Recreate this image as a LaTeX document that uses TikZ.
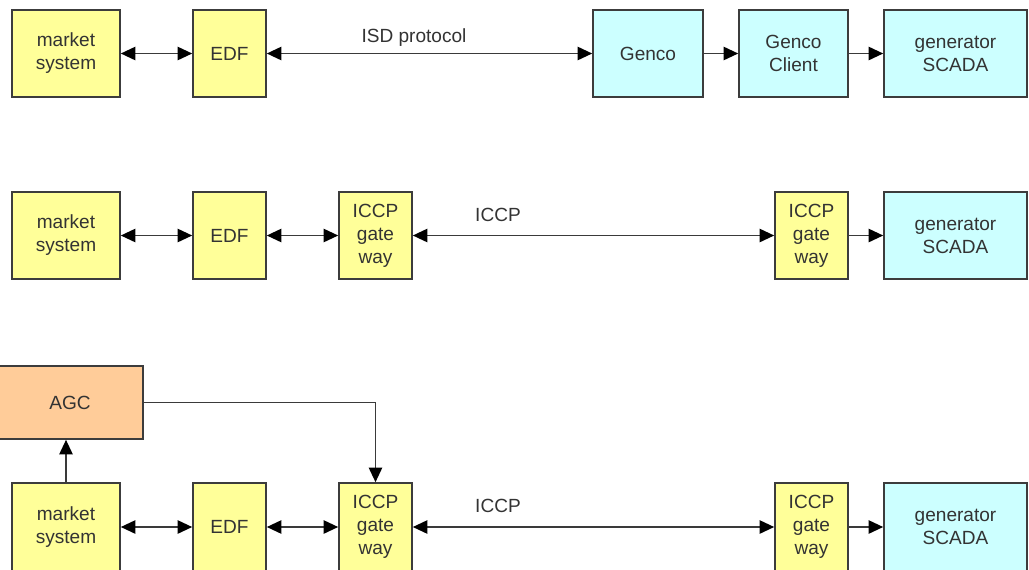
\documentclass[tikz,border=0pt]{standalone}
\usepackage{fontspec}
\setmainfont{Liberation Sans}
\usetikzlibrary{arrows.meta,shadows}
\definecolor{boxyellow}{HTML}{FFFF99}
\definecolor{boxcyan}{HTML}{CCFFFF}
\definecolor{boxorange}{HTML}{FFCC99}
\definecolor{edge}{HTML}{3C3C3C}
\definecolor{txt}{HTML}{333333}
\definecolor{wire}{HTML}{3A3A3A}
\tikzset{
  blk/.style={draw=edge, line width=1.2pt, text=txt, align=center,
    font=\fontsize{14.3}{17.3}\selectfont, inner sep=0pt,
    drop shadow={shadow xshift=0.9pt, shadow yshift=-0.9pt, fill=black!45, opacity=0.6}},
  yel/.style={blk, fill=boxyellow},
  cya/.style={blk, fill=boxcyan},
  org/.style={blk, fill=boxorange},
  sz/.style 2 args={minimum width=#1*0.75pt, minimum height=#2*0.75pt},
  link/.style={draw=wire, line width=1.4pt},
  bi/.style={link, {Triangle[length=11pt,width=10pt,color=black]}-{Triangle[length=11pt,width=10pt,color=black]}},
  uni/.style={link, -{Triangle[length=11pt,width=10pt,color=black]}},
  lbl/.style={text=txt, font=\fontsize{14.3}{17.3}\selectfont, inner sep=0pt}
}
\begin{document}
\begin{tikzpicture}[x=0.75pt, y=-0.75pt]
\useasboundingbox (0,0) rectangle (1029,569);
\clip (0,0) rectangle (1029,569);

% row 1: ISD protocol path
\node[yel, sz={108}{87}] (ms1) at (66,53.5) {market\\system};
\node[yel, sz={73}{87}] (edf1) at (229.5,53.5) {EDF};
\node[cya, sz={110}{87}] (genco) at (648,53.5) {Genco};
\node[cya, sz={109}{87}] (gcl) at (793.5,53.5) {Genco\\Client};
\node[cya, sz={143}{87}] (sc1) at (955.5,53.5) {generator\\SCADA};
\draw[bi] (ms1) -- (edf1);
\draw[bi] (edf1) -- (genco);
\node[lbl] (isd) at (414,38) {ISD protocol};
\draw[uni] (genco) -- (gcl);
\draw[uni] (gcl) -- (sc1);

% row 2: ICCP path
\node[yel, sz={108}{87}] (ms2) at (66,235.5) {market\\system};
\node[yel, sz={73}{87}] (edf2) at (229.5,235.5) {EDF};
\node[yel, sz={73}{87}] (gwa2) at (375.5,235.5) {ICCP\\gate\\way};
\node[yel, sz={73}{87}] (gwb2) at (811.5,235.5) {ICCP\\gate\\way};
\node[cya, sz={143}{87}] (sc2) at (955.5,235.5) {generator\\SCADA};
\draw[bi] (ms2) -- (edf2);
\draw[bi] (edf2) -- (gwa2);
\draw[bi] (gwa2) -- (gwb2);
\node[lbl] (iccp2) at (498,215) {ICCP};
\draw[uni] (gwb2) -- (sc2);

% row 3: ICCP path with AGC (lower edges fall just past the page)
\node[org, minimum width=146*0.75pt, minimum height=73*0.75pt] (agc) at (70,402.5) {AGC};
\node[yel, sz={108}{88}] (ms3) at (66,527) {market\\system};
\node[yel, sz={73}{88}] (edf3) at (229.5,527) {EDF};
\node[yel, sz={73}{88}] (gwa3) at (375.5,527) {ICCP\\gate\\way};
\node[yel, sz={73}{88}] (gwb3) at (811.5,527) {ICCP\\gate\\way};
\node[cya, sz={143}{88}] (sc3) at (955.5,527) {generator\\SCADA};
\draw[bi] (ms3) -- (edf3);
\draw[bi] (edf3) -- (gwa3);
\draw[bi] (gwa3) -- (gwb3);
\node[lbl] (iccp3) at (498,506) {ICCP};
\draw[uni] (gwb3) -- (sc3);
\draw[uni] (ms3.north) -- (ms3.north |- agc.south);
\draw[uni] (agc.east) -| (gwa3.north);
\end{tikzpicture}
\end{document}
